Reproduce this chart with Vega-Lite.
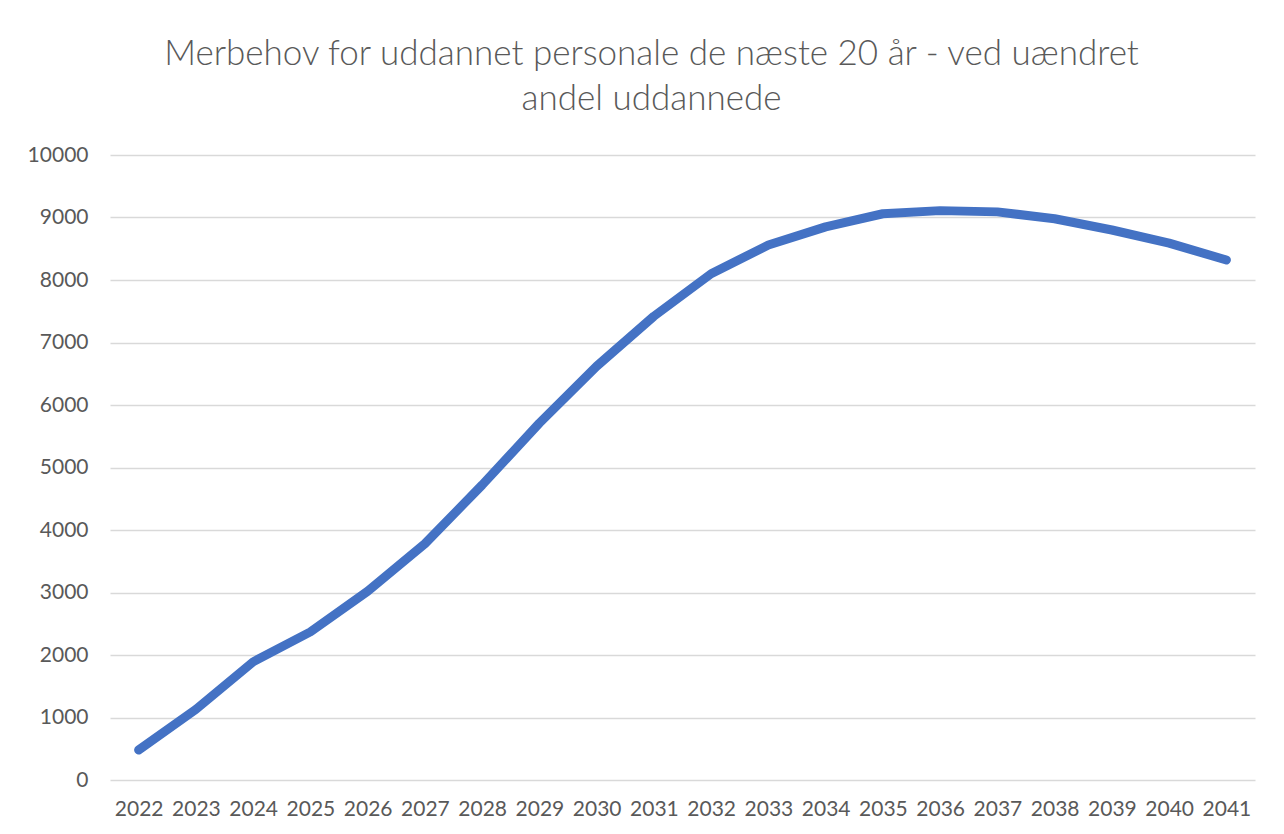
{
  "$schema": "https://vega.github.io/schema/vega-lite/v6.json",
  "autosize": "none",
  "width": 1145,
  "height": 625,
  "padding": {"left": 110, "top": 155, "right": 29, "bottom": 54},
  "background": "white",
  "config": {
    "view": {"stroke": null},
    "font": "Lato"
  },
  "title": {
    "text": ["Merbehov for uddannet personale de næste 20 år - ved uændret", "andel uddannede"],
    "fontSize": 35,
    "fontWeight": 300,
    "font": "Lato",
    "color": "#595959",
    "lineHeight": 45,
    "anchor": "middle",
    "dx": -31,
    "offset": 27
  },
  "data": {
    "values": [
      {"year": "2022", "value": 480},
      {"year": "2023", "value": 1130},
      {"year": "2024", "value": 1890},
      {"year": "2025", "value": 2370},
      {"year": "2026", "value": 3020},
      {"year": "2027", "value": 3780},
      {"year": "2028", "value": 4720},
      {"year": "2029", "value": 5710},
      {"year": "2030", "value": 6620},
      {"year": "2031", "value": 7420},
      {"year": "2032", "value": 8100},
      {"year": "2033", "value": 8560},
      {"year": "2034", "value": 8850},
      {"year": "2035", "value": 9060},
      {"year": "2036", "value": 9110},
      {"year": "2037", "value": 9090},
      {"year": "2038", "value": 8980},
      {"year": "2039", "value": 8800},
      {"year": "2040", "value": 8590},
      {"year": "2041", "value": 8320}
    ]
  },
  "mark": {"type": "line", "color": "#4472C4", "strokeWidth": 9, "strokeCap": "round", "strokeJoin": "round"},
  "encoding": {
    "x": {
      "field": "year",
      "type": "ordinal",
      "scale": {"type": "point", "padding": 0.5},
      "axis": {
        "title": null,
        "labelAngle": 0,
        "labelFontSize": 21,
        "labelColor": "#595959",
        "labelPadding": 18,
        "ticks": false,
        "domain": false,
        "grid": false
      }
    },
    "y": {
      "field": "value",
      "type": "quantitative",
      "scale": {"domain": [0, 10000], "nice": false},
      "axis": {
        "title": null,
        "values": [0, 1000, 2000, 3000, 4000, 5000, 6000, 7000, 8000, 9000, 10000],
        "format": "d",
        "labelFontSize": 21,
        "labelColor": "#595959",
        "labelPadding": 22,
        "ticks": false,
        "domain": false,
        "grid": true,
        "gridColor": "#d9d9d9",
        "gridWidth": 1.5
      }
    }
  }
}
